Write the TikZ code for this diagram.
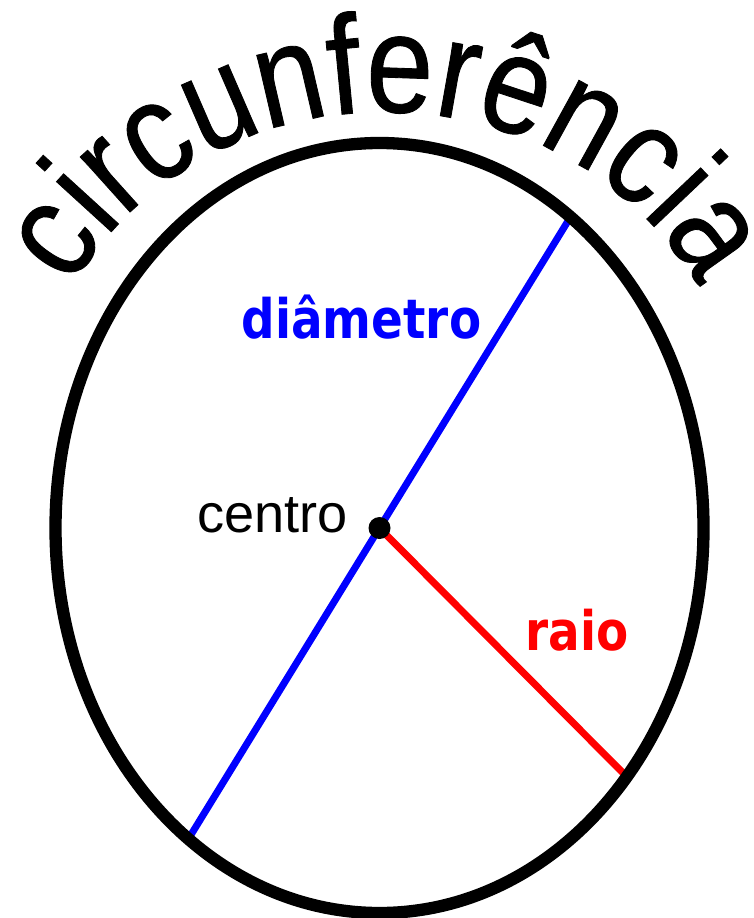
\documentclass[tikz,border=0pt]{standalone}
\usepackage{fontspec}
\setmainfont{Liberation Sans}
\newfontfamily\rotulofont[FakeStretch=0.86]{DejaVu Sans}
\newfontfamily\arcofont[FakeStretch=0.86, FakeBold=0.6]{Liberation Sans}
\usetikzlibrary{decorations.text}

\tikzset{
  rotulo/.style={font=\rotulofont\bfseries\fontsize{15.5}{16}\selectfont, anchor=base, inner sep=0pt},
  linha/.style={line width=2pt}
}

\begin{document}
\begin{tikzpicture}
    \useasboundingbox (0,0) rectangle (7.53,-9.18);

    % Pontos principais
    \coordinate (O) at (3.795,-5.28);
    \coordinate (A) at (1.89,-8.38);
    \coordinate (B) at (5.68,-2.21);
    \coordinate (R) at (6.27,-7.77);

    % Diametro e raio
    \draw[linha, blue] (A) -- (B);
    \draw[linha, red] (O) -- (R);

    % Circunferencia
    \draw[line width=3.5pt] (O) ellipse [x radius=3.24, y radius=3.85];
    \fill (O) circle (0.11);

    % Texto em arco
    \path[decorate, decoration={text along path, text align=center,
        text={|\arcofont\fontsize{40}{40}\selectfont|circunferência}}]
        (0.33,-4.35) arc[start angle=180, end angle=0, x radius=3.52, y radius=3.23];

    % Rotulos
    \node[rotulo, blue] (diametro) at (3.615,-3.38) {diâmetro};
    \node[anchor=base, inner sep=0pt, font=\fontsize{15.4}{16}\selectfont] (centro) at (2.725,-5.32) {centro};
    \node[rotulo, red] (raio) at (5.77,-6.50) {raio};
\end{tikzpicture}
\end{document}
